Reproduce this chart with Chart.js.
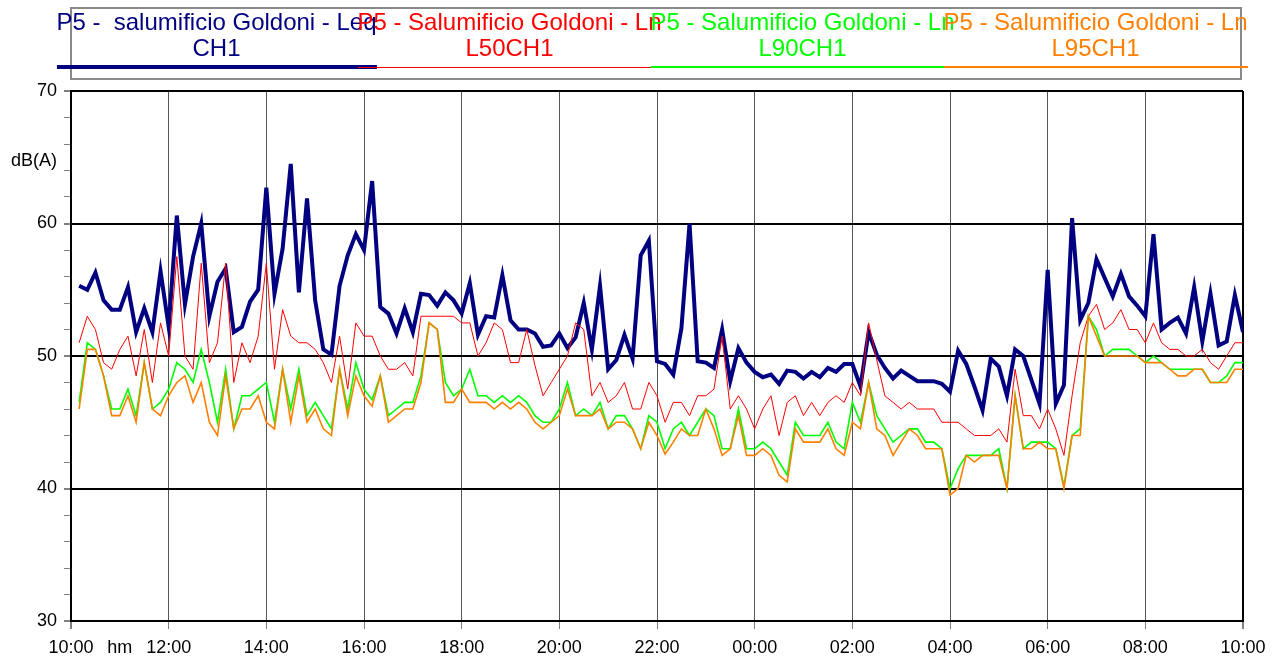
<!DOCTYPE html>
<html>
<head>
<meta charset="utf-8">
<script src="https://cdn.jsdelivr.net/npm/chart.js@4.4.1/dist/chart.umd.min.js"></script>
<style>
body{margin:0;background:#fff;font-family:'Liberation Sans',Arial,sans-serif;}
#wrap{position:relative;width:1280px;height:659px;overflow:hidden;}
#chart{position:absolute;left:0;top:0;}
#legend{position:absolute;left:70px;top:7px;width:1172px;height:73px;border:2px solid #8a8a8a;box-sizing:border-box;}
.item{position:absolute;top:0;width:293px;height:70px;}
.box{position:absolute;top:0;left:50%;transform:translateX(-50%);text-align:center;font-size:24px;line-height:26px;white-space:pre;}
.swatch{position:absolute;left:0;right:0;}
</style>
</head>
<body>
<div id="wrap">
  <canvas id="chart" width="1280" height="659"></canvas>
  <div id="legend"></div>
</div>
<script>
// 10-minute values, 10:10 -> 10:00 next day
const leq = [55.3,55.0,56.3,54.2,53.5,53.5,55.2,51.8,53.6,51.8,56.4,52.2,60.6,53.9,57.5,60.0,53.0,55.6,
  56.6,51.8,52.2,54.1,55.0,62.7,54.7,58.1,64.5,54.8,61.9,54.2,50.5,50.1,55.3,57.6,59.2,58.0,63.2,
  53.7,53.2,51.7,53.6,51.8,54.7,54.6,53.8,54.8,54.2,53.2,55.5,51.6,53.0,52.9,56.1,52.7,52.0,
  52.0,51.7,50.7,50.8,51.7,50.6,51.4,54.0,50.5,55.3,49.0,49.7,51.6,49.8,57.6,58.7,49.6,49.4,
  48.6,52.1,60.0,49.6,49.5,49.1,52.0,48.1,50.6,49.5,48.8,48.4,48.6,47.9,48.9,48.8,48.3,48.8,48.4,
  49.1,48.8,49.4,49.4,47.7,51.8,50.1,49.1,48.3,48.9,48.5,48.1,48.1,48.1,47.9,47.3,50.4,49.4,
  47.7,45.9,49.8,49.2,47.0,50.5,50.0,48.2,46.4,56.5,46.4,47.8,60.4,52.7,54.0,57.3,55.9,54.5,56.2,
  54.5,53.8,53.0,59.2,52.0,52.5,52.9,51.7,55.2,51.1,54.7,50.8,51.1,54.6,51.8];

const l50 = [51.0,53.0,52.0,49.5,49.0,50.5,51.5,48.5,52.0,48.0,52.5,50.0,57.5,50.0,49.0,57.0,49.5,51.0,
  57.0,48.0,51.0,49.5,51.5,57.0,49.0,53.5,51.5,51.0,51.0,50.5,49.5,48.0,51.5,47.5,52.5,51.5,51.5,
  50.0,49.0,49.0,49.5,48.5,53.0,53.0,53.0,53.0,53.0,52.5,52.5,50.0,51.0,52.5,52.0,49.5,49.5,
  52.0,49.3,47.0,48.0,49.0,50.0,52.5,52.0,47.0,48.0,46.5,47.0,48.0,46.0,46.0,48.0,47.0,45.0,
  46.5,46.5,45.5,47.0,47.0,47.5,51.5,46.0,47.0,46.0,44.5,46.0,47.0,44.0,46.5,47.0,45.5,46.5,45.5,
  46.5,47.0,46.5,48.0,47.0,52.5,49.7,47.0,46.5,46.0,46.5,46.0,46.0,46.0,45.0,45.0,45.0,44.5,
  44.0,44.0,44.0,44.5,43.5,49.0,45.5,45.5,44.5,46.0,44.5,42.5,47.0,51.0,53.0,53.9,52.0,52.5,53.5,
  52.0,52.0,51.0,52.5,51.0,50.5,50.5,50.0,50.0,50.5,49.5,49.0,50.0,51.0,51.0];

const l90 = [46.5,51.0,50.5,48.5,46.0,46.0,47.5,45.5,49.5,46.0,46.5,47.5,49.5,49.0,48.0,50.5,48.0,45.0,
  49.0,44.5,47.0,47.0,47.5,48.0,45.0,49.0,46.0,49.0,45.5,46.5,45.5,44.5,49.0,46.0,49.5,47.5,46.7,
  48.5,45.5,46.0,46.5,46.5,48.5,52.5,52.0,48.0,47.0,47.5,49.0,47.0,47.0,46.5,47.0,46.5,47.0,
  46.5,45.5,45.0,45.0,46.0,48.0,45.5,46.0,45.5,46.5,44.5,45.5,45.5,44.5,43.0,45.5,45.0,43.0,
  44.5,45.0,44.0,45.0,46.0,45.5,43.0,43.0,46.0,43.0,43.0,43.5,43.0,42.0,41.0,45.0,44.0,44.0,44.0,
  45.0,43.5,43.0,46.5,45.0,48.0,45.5,44.5,43.5,44.0,44.5,44.5,43.5,43.5,43.0,40.0,41.5,42.5,
  42.5,42.5,42.5,43.0,40.0,47.0,43.0,43.5,43.5,43.5,43.0,40.2,44.0,44.5,53.0,52.0,50.0,50.5,50.5,
  50.5,50.0,49.5,50.0,49.5,49.0,49.0,49.0,49.0,49.0,48.0,48.0,48.5,49.5,49.5];

const l95 = [46.0,50.5,50.5,48.5,45.5,45.5,47.0,45.0,49.5,46.0,45.5,47.0,48.0,48.5,46.5,48.0,45.0,44.0,
  48.5,44.5,46.0,46.0,47.0,45.0,44.5,49.0,45.0,48.5,45.0,46.0,44.5,44.0,49.0,45.5,48.5,47.0,46.2,
  48.5,45.0,45.5,46.0,46.0,48.0,52.5,52.0,46.5,46.5,47.5,46.5,46.5,46.5,46.0,46.5,46.0,46.5,
  46.0,45.0,44.5,45.0,45.5,47.5,45.5,45.5,45.5,46.0,44.5,45.0,45.0,44.5,43.0,45.0,44.0,42.6,
  43.5,44.5,44.0,44.0,46.0,44.5,42.5,43.0,45.5,42.5,42.5,43.0,42.5,41.0,40.5,44.5,43.5,43.5,43.5,
  44.5,43.0,42.5,45.0,44.5,48.0,44.5,44.0,42.5,43.5,44.5,44.0,43.0,43.0,43.0,39.5,40.0,42.5,
  42.0,42.5,42.5,42.5,40.0,47.0,43.0,43.0,43.5,43.0,43.0,40.0,44.0,44.0,53.0,51.5,50.0,50.0,50.0,
  50.0,50.0,49.5,49.5,49.5,49.0,48.5,48.5,49.0,49.0,48.0,48.0,48.0,49.0,49.0];

const timeLabels = ['10:00','12:00','14:00','16:00','18:00','20:00','22:00','00:00','02:00','04:00','06:00','08:00','10:00'];
const seriesNames = ['P5 -  salumificio Goldoni - Leq', 'P5 - Salumificio Goldoni - Ln', 'P5 - Salumificio Goldoni - Ln', 'P5 - Salumificio Goldoni - Ln'];
const seriesSub = ['CH1', 'L50CH1', 'L90CH1', 'L95CH1'];
const colors = ['#000080', '#ff0000', '#00ff00', '#ff8000'];
const widths = [4, 1, 1.6, 1.6];

const STEP = 10;      // minutes between samples
const UNIT_AT = 64.7; // where the dB(A) caption sits on the y axis
const toPoints = arr => arr.map((v, i) => ({x: (i + 1) * STEP, y: v}));

// legend: centred two-line caption over a line sample, four columns
const legend = document.getElementById('legend');
[leq, l50, l90, l95].forEach((_, i) => {
  const item = document.createElement('div');
  item.className = 'item';
  item.style.left = (293 * i - 2) + 'px';
  const box = document.createElement('div');
  box.className = 'box';
  box.style.color = colors[i];
  box.textContent = seriesNames[i] + '\n' + seriesSub[i];
  const sw = document.createElement('div');
  sw.className = 'swatch';
  sw.style.top = (58 - widths[i] / 2) + 'px';
  sw.style.height = Math.max(1, widths[i]) + 'px';
  sw.style.background = colors[i];
  box.appendChild(sw);
  item.appendChild(box);
  legend.appendChild(item);
});

const FONT = {family: "'Liberation Sans', Arial, sans-serif", size: 18};

new Chart(document.getElementById('chart'), {
  type: 'line',
  data: {
    datasets: [leq, l50, l90, l95].map((arr, i) => ({
      label: seriesNames[i] + ' ' + seriesSub[i],
      data: toPoints(arr),
      borderColor: colors[i],
      borderWidth: widths[i],
      order: 4 - i
    }))
  },
  options: {
    responsive: false,
    animation: false,
    devicePixelRatio: 1,
    layout: {padding: {top: 91, right: 37, left: 0, bottom: 0}},
    plugins: {legend: {display: false}, tooltip: {enabled: false}},
    elements: {point: {radius: 0}, line: {tension: 0, borderJoinStyle: 'miter'}},
    scales: {
      x: {
        type: 'linear', min: 0, max: 1440,
        afterBuildTicks: s => {
          s.ticks = timeLabels.map((_, i) => ({value: i * 120}));
          s.ticks.splice(1, 0, {value: 60});
        },
        afterFit: s => { s.height = 38; },
        ticks: {
          autoSkip: false, maxRotation: 0, padding: 8, color: '#000', font: FONT,
          callback: v => v === 60 ? 'hm' : timeLabels[v / 120]
        },
        grid: {
          color: c => c.tick.value === 60 ? 'rgba(0,0,0,0)' : (c.tick.value === 0 || c.tick.value === 1440 ? '#000' : '#555'),
          lineWidth: c => (c.tick.value === 0 || c.tick.value === 1440) ? 2 : 1,
          tickColor: c => c.tick.value === 60 ? 'rgba(0,0,0,0)' : '#808080',
          tickLength: 8
        },
        border: {color: '#000', width: 2}
      },
      y: {
        min: 30, max: 70,
        afterBuildTicks: s => {
          s.ticks.push({value: UNIT_AT});
          s.ticks.sort((a, b) => a.value - b.value);
        },
        afterFit: s => { s.width = 71; },
        ticks: {
          stepSize: 2, autoSkip: false, padding: 7, color: '#000', font: FONT,
          callback: v => v === UNIT_AT ? 'dB(A)' : (v % 10 === 0 ? v : '')
        },
        grid: {
          color: c => (c.tick.value % 10 === 0) ? '#000' : 'rgba(0,0,0,0)',
          lineWidth: c => (c.tick.value % 10 === 0) ? 2 : 1,
          tickColor: c => c.tick.value === UNIT_AT ? 'rgba(0,0,0,0)' : '#808080',
          tickLength: 7
        },
        border: {color: '#000', width: 2}
      }
    }
  }
});
</script>
</body>
</html>
